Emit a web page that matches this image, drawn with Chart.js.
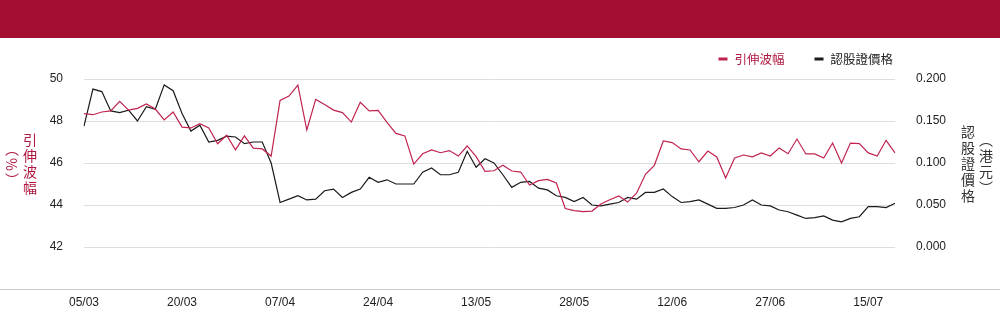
<!DOCTYPE html>
<html>
<head>
<meta charset="utf-8">
<script src="https://cdn.jsdelivr.net/npm/chart.js@4.4.1/dist/chart.umd.min.js"></script>
<style>
  html, body { margin: 0; padding: 0; background: #fff; }
  #header { height: 38px; background: #a50e33; }
  #wrap { position: relative; width: 1000px; height: 286px; }
  .vtitle {
    position: absolute;
    font-family: 'Noto Sans CJK TC', 'Noto Sans CJK SC', sans-serif;
    font-size: 14px;
    line-height: 18px;
    letter-spacing: 2px;
    text-align: center;
    white-space: nowrap;
  }
  #titleLeft  { writing-mode: vertical-rl; left: 3px;   top: 94px; height: 66px; width: 36px; color: #b0183f; }
  #titleRight { writing-mode: vertical-lr; left: 959px; top: 86px; height: 82px; width: 36px; color: #333; }
</style>
</head>
<body>
<div id="header"></div>
<div id="wrap">
  <canvas id="chart"></canvas>
  <div class="vtitle" id="titleLeft">引伸波幅<br>（%）</div>
  <div class="vtitle" id="titleRight">認股證價格<br>（港元）</div>
</div>
<script>
// trading days (dd/mm)
const dates = [
  '05/03','06/03','07/03','10/03','11/03','12/03','13/03','14/03','17/03','18/03','19/03',
  '20/03','21/03','24/03','25/03','26/03','27/03','28/03','31/03','01/04','02/04','03/04',
  '07/04','08/04','09/04','10/04','11/04','14/04','15/04','16/04','17/04','22/04','23/04',
  '24/04','25/04','28/04','29/04','30/04','02/05','06/05','07/05','08/05','09/05','12/05',
  '13/05','14/05','15/05','16/05','19/05','20/05','21/05','22/05','23/05','26/05','27/05',
  '28/05','29/05','30/05','02/06','03/06','04/06','05/06','06/06','09/06','10/06','11/06',
  '12/06','13/06','16/06','17/06','18/06','19/06','20/06','23/06','24/06','25/06','26/06',
  '27/06','30/06','02/07','03/07','04/07','07/07','08/07','09/07','10/07','11/07','14/07',
  '15/07','16/07','17/07','18/07'
];
const xTickLabels = ['05/03','20/03','07/04','24/04','13/05','28/05','12/06','27/06','15/07'];

// 引伸波幅 (%)
const impliedVol = [
  48.35, 48.30, 48.43, 48.48, 48.94, 48.52, 48.60, 48.81, 48.57, 48.05, 48.43,
  47.71, 47.67, 47.87, 47.67, 46.92, 47.32, 46.63, 47.29, 46.71, 46.67, 46.33,
  48.98, 49.19, 49.71, 47.57, 49.03, 48.79, 48.52, 48.40, 47.95, 48.89, 48.48,
  48.51, 47.94, 47.41, 47.29, 45.95, 46.44, 46.62, 46.49, 46.59, 46.33, 46.81,
  46.30, 45.60, 45.63, 45.89, 45.62, 45.57, 44.95, 45.16, 45.22, 45.05, 43.83,
  43.73, 43.68, 43.71, 44.05, 44.25, 44.43, 44.14, 44.56, 45.46, 45.89, 47.05,
  46.97, 46.67, 46.62, 46.06, 46.57, 46.29, 45.29, 46.24, 46.38, 46.29, 46.48,
  46.33, 46.71, 46.44, 47.14, 46.43, 46.43, 46.24, 46.95, 46.00, 46.95, 46.92,
  46.48, 46.33, 47.08, 46.48
];

// 認股證價格 (港元)
const warrantPrice = [
  0.144, 0.188, 0.185, 0.162, 0.160, 0.163, 0.150, 0.167, 0.164, 0.193, 0.186,
  0.159, 0.138, 0.145, 0.125, 0.127, 0.132, 0.131, 0.123, 0.125, 0.125, 0.100,
  0.053, 0.057, 0.061, 0.056, 0.057, 0.067, 0.069, 0.059, 0.065, 0.069, 0.083,
  0.077, 0.080, 0.075, 0.075, 0.075, 0.089, 0.094, 0.086, 0.086, 0.089, 0.114,
  0.095, 0.105, 0.100, 0.086, 0.071, 0.077, 0.078, 0.070, 0.068, 0.061, 0.059,
  0.054, 0.059, 0.050, 0.049, 0.051, 0.053, 0.059, 0.057, 0.065, 0.065, 0.069,
  0.060, 0.053, 0.054, 0.056, 0.051, 0.046, 0.046, 0.047, 0.050, 0.056, 0.050,
  0.049, 0.044, 0.042, 0.038, 0.034, 0.035, 0.037, 0.032, 0.030, 0.034, 0.036,
  0.048, 0.048, 0.047, 0.052
];

const leftTicks  = [42, 44, 46, 48, 50];
const rightTicks = [0, 0.05, 0.1, 0.15, 0.2];

const RED = '#c0244e';
const BLACK = '#1a1a1a';

Chart.defaults.font.family = "'Liberation Sans', Arial, sans-serif";
Chart.defaults.font.size = 12;
Chart.defaults.color = '#222';

// legend row drawn top-right, above the plot
const legendRow = {
  id: 'legendRow',
  afterDraw(chart) {
    const { ctx, chartArea } = chart;
    const y = 21;
    ctx.save();
    ctx.font = "12.5px 'Noto Sans CJK TC', sans-serif";
    ctx.textBaseline = 'middle';
    let x = chartArea.right - 2;
    const items = chart.data.datasets.slice().reverse();
    items.forEach((ds, i) => {
      const w = ctx.measureText(ds.label).width;
      const tx = x - w;
      ctx.fillStyle = ds.legendText;
      ctx.fillText(ds.label, tx, y);
      ctx.fillStyle = ds.borderColor;
      ctx.fillRect(tx - 16, y - 1.5, 9, 3);
      x = tx - 16 - 30;
    });
    ctx.restore();
  }
};

// divider under the plot, full width
const baseLine = {
  id: 'baseLine',
  afterDraw(chart) {
    const { ctx, chartArea, width } = chart;
    ctx.save();
    ctx.strokeStyle = '#cccccc';
    ctx.lineWidth = 1;
    ctx.beginPath();
    ctx.moveTo(0, chartArea.bottom + 0.5);
    ctx.lineTo(width, chartArea.bottom + 0.5);
    ctx.stroke();
    ctx.restore();
  }
};

new Chart(document.getElementById('chart'), {
  type: 'line',
  data: {
    labels: dates,
    datasets: [
      {
        label: '引伸波幅',
        data: impliedVol,
        yAxisID: 'y',
        borderColor: RED,
        legendText: '#b0183f',
        borderWidth: 1.2,
        pointRadius: 0,
        tension: 0,
      },
      {
        label: '認股證價格',
        data: warrantPrice,
        yAxisID: 'y1',
        borderColor: BLACK,
        legendText: '#222',
        borderWidth: 1.2,
        pointRadius: 0,
        tension: 0,
      },
    ],
  },
  options: {
    responsive: true,
    maintainAspectRatio: false,
    animation: false,
    devicePixelRatio: 1,
    layout: { padding: { top: 41, left: 0, right: 0, bottom: 0 } },
    plugins: { legend: { display: false }, tooltip: { enabled: false } },
    scales: {
      x: {
        grid: { display: false, drawTicks: false },
        border: { display: false },
        ticks: {
          autoSkip: false, maxRotation: 0, padding: 6,
          callback: (v, i) => xTickLabels.includes(dates[i]) ? dates[i] : null,
        },
        afterFit: s => { s.height = 35; },
      },
      y: {
        position: 'left',
        min: 40, max: 50,
        afterBuildTicks: s => { s.ticks = leftTicks.map(v => ({ value: v })); },
        grid: { color: '#dedede', drawTicks: false },
        border: { display: false },
        ticks: { padding: 21, callback: v => String(v) },
        afterFit: s => { s.width = 84; },
      },
      y1: {
        position: 'right',
        min: -0.05, max: 0.2,
        afterBuildTicks: s => { s.ticks = rightTicks.map(v => ({ value: v })); },
        grid: { display: false, drawTicks: false },
        border: { display: false },
        ticks: { padding: 21, callback: v => v.toFixed(3) },
        afterFit: s => { s.width = 105; },
      },
    },
  },
  plugins: [legendRow, baseLine],
});
</script>
</body>
</html>
